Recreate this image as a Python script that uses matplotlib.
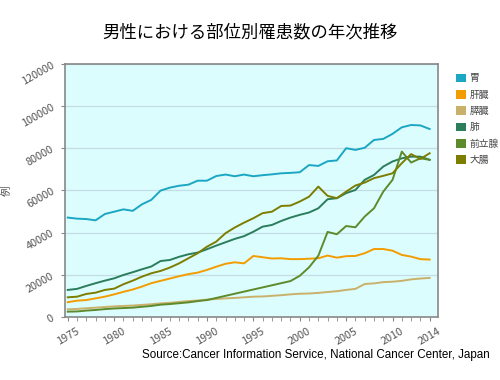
import numpy as np
import matplotlib
matplotlib.use('Agg')
import matplotlib.pyplot as plt
from matplotlib.patches import Patch

plt.rcParams['font.family'] = ['Noto Sans CJK JP', 'DejaVu Sans']

# datos (casos, hombres)
anios = list(range(1975, 2015))

estomago = [47100, 46600, 46400, 45800, 48800, 49900, 51000, 50300, 53400, 55500,
            59900, 61300, 62200, 62700, 64600, 64600, 66800, 67500, 66700, 67500,
            66700, 67200, 67600, 68100, 68300, 68600, 72000, 71600, 73800, 74200,
            80000, 79200, 80200, 83900, 84400, 86800, 89900, 91000, 90800, 89100]
higado = [7000, 7700, 8000, 8800, 9600, 10700, 11900, 13000, 14400, 16000,
          17100, 18200, 19300, 20300, 21000, 22300, 23800, 25200, 25900, 25400,
          28900, 28300, 27700, 27800, 27400, 27400, 27600, 27800, 29100, 28100,
          28800, 28900, 30200, 32200, 32200, 31400, 29400, 28600, 27400, 27200]
pancreas = [3600, 3800, 4100, 4400, 4700, 5000, 5200, 5400, 5700, 6000,
            6400, 6700, 7100, 7500, 7800, 8200, 8500, 8800, 9000, 9300,
            9600, 9700, 10000, 10300, 10700, 11000, 11100, 11400, 11800, 12200,
            12800, 13300, 15600, 15900, 16500, 16700, 17100, 17800, 18200, 18500]
pulmon = [12800, 13300, 14700, 16000, 17200, 18300, 19900, 21200, 22600, 23900,
          26500, 27000, 28500, 29700, 30500, 32100, 33800, 35400, 37000, 38300,
          40400, 42800, 43600, 45500, 47100, 48400, 49500, 51500, 55800, 56300,
          58700, 60200, 65000, 67300, 71300, 73700, 75200, 76000, 76000, 74500]
prostata = [2500, 2600, 3000, 3300, 3700, 4000, 4200, 4400, 4800, 5200,
            5800, 6100, 6500, 6900, 7500, 8000, 9000, 10000, 11000, 12000,
            13000, 14000, 15000, 16000, 17000, 19500, 23500, 29000, 40300, 39200,
            43100, 42500, 47600, 51500, 59400, 65000, 78400, 73200, 75200, 74500]
colon = [9300, 9600, 10900, 11500, 12800, 13400, 15500, 17200, 19100, 20700,
         21800, 23400, 25400, 27800, 30200, 33300, 35700, 39700, 42400, 44700,
         46800, 49200, 49900, 52600, 52800, 54700, 57000, 61800, 57400, 56300,
         59400, 62300, 63700, 65800, 66900, 68100, 72900, 77200, 74900, 77600]

nombres = ['胃', '肝臓', '膵臓', '肺', '前立腺', '大腸']
series = [estomago, higado, pancreas, pulmon, prostata, colon]
colores = ['#1ba6c4', '#f39c00', '#c9b16c', '#2b7d5c', '#5d8b2c', '#7d7d00']

xticks = [1975, 1980, 1985, 1990, 1995, 2000, 2005, 2010, 2014]
yticks = [0, 20000, 40000, 60000, 80000, 100000, 120000]

fig = plt.figure(figsize=(5, 3.8), dpi=100)
ax = fig.add_axes([0.13, 0.166, 0.746, 0.666])
ax.set_facecolor('#dcfdfd')

for nombre, datos, c in zip(nombres, series, colores):
    ax.plot(anios, datos, color=c, lw=1.4, label=nombre)

ax.set_xlim(1974.7, 2014.9)
ax.set_ylim(0, 120000)
ax.set_xticks(xticks)
ax.set_xticks(anios, minor=True)
ax.set_yticks(yticks)
ax.tick_params(axis='x', which='both', length=3, color='#888888', labelsize=7.8,
               labelcolor='#555555', labelrotation=30)
ax.tick_params(axis='y', length=3, color='#888888', labelsize=7.8,
               labelcolor='#555555', labelrotation=30)
ax.grid(axis='y', color='#c3dde6', lw=0.9)
ax.set_axisbelow(True)
for s in ax.spines.values():
    s.set_color('#888888')
    s.set_linewidth(1.2)
ax.set_ylabel('例', fontsize=7.5, color='#555555', labelpad=6)

manejadores = [Patch(facecolor=c, edgecolor='none') for c in colores]
fig.legend(manejadores, nombres, loc='upper left', bbox_to_anchor=(0.895, 0.83),
           frameon=False, fontsize=7, handlelength=1.0, handleheight=1.0,
           labelspacing=0.65, handletextpad=0.4, labelcolor='#444444')

fig.text(0.5, 0.915, '男性における部位別罹患数の年次推移', ha='center', va='center',
         fontsize=12.5)
fig.text(0.98, 0.067, 'Source:Cancer Information Service, National Cancer Center, Japan',
         ha='right', va='center', fontsize=8.4, family='Liberation Sans')

fig.savefig('out.png', dpi=100)
